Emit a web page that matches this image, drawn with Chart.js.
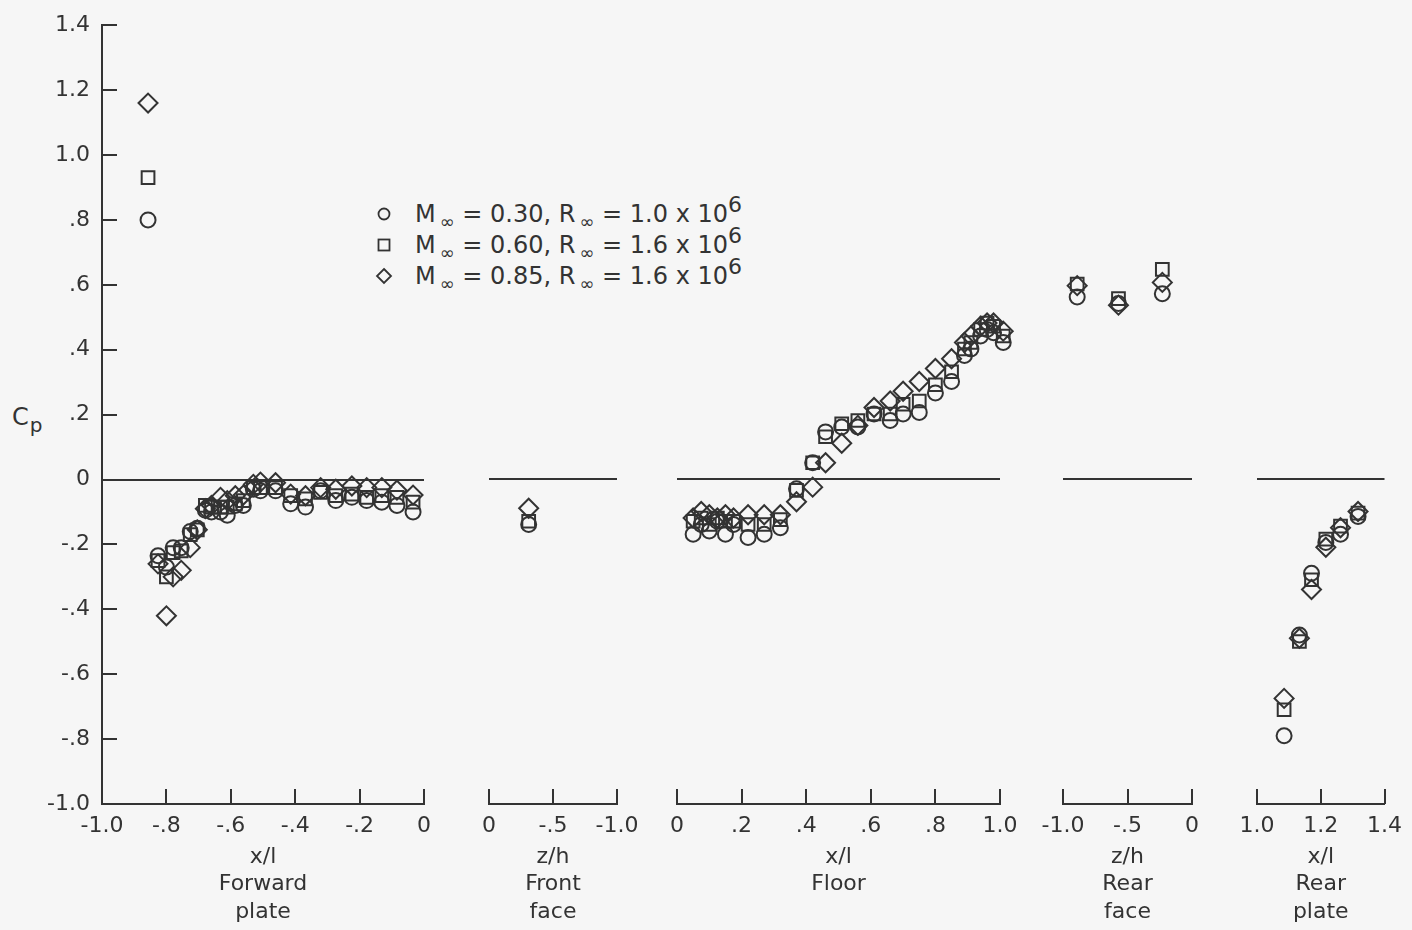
<!DOCTYPE html>
<html>
<head>
<meta charset="utf-8">
<script src="https://cdn.jsdelivr.net/npm/chart.js@4.4.1/dist/chart.umd.min.js"></script>
<style>
  html, body { margin: 0; padding: 0; background: #f6f6f6; overflow: hidden; }
  body { width: 1412px; height: 930px; position: relative; font-family: 'DejaVu Sans', sans-serif; color: #333; }
  canvas { position: absolute; top: 0; }
  sub, sup { line-height: 0; }
  .cp { position: absolute; left: 12px; top: 403px; font-size: 24px; line-height: 28px; }
  .cp sub { font-size: 20px; vertical-align: -7px; margin-left: 1px; }
  .legend { position: absolute; left: 370px; top: 200px; font-size: 24px; }
  .legend .row { position: absolute; left: 0; height: 28px; line-height: 28px; white-space: nowrap; }
  .legend svg { position: absolute; left: 3px; top: 3px; }
  .legend .txt { position: absolute; left: 45px; top: 0; }
  .legend sub { font-size: 18px; vertical-align: -6px; margin-left: 4px; }
  .legend sup { font-size: 22px; vertical-align: 10px; }
</style>
</head>
<body>
<div class="cp">C<sub>p</sub></div>
<div class="legend" id="legend"></div>

<script>
// series (free-stream conditions)
const seriesMach = ['0.30', '0.60', '0.85'];
const seriesRe = ['1.0', '1.6', '1.6'];

// y axis
const yMin = -1.0, yMax = 1.4, yStep = 0.2;

// Forward plate, x/l
const fwdX = [-0.857, -0.826, -0.80, -0.779, -0.754, -0.726, -0.704, -0.679, -0.66, -0.632, -0.611, -0.586, -0.561, -0.53, -0.508, -0.461, -0.414, -0.368, -0.321, -0.274, -0.224, -0.178, -0.131, -0.084, -0.034];
const fwdM30 = [0.80, -0.235, -0.27, -0.21, -0.21, -0.16, -0.15, -0.095, -0.10, -0.10, -0.11, -0.08, -0.08, -0.03, -0.035, -0.035, -0.075, -0.085, -0.035, -0.065, -0.055, -0.065, -0.07, -0.08, -0.10];
const fwdM60 = [0.93, -0.25, -0.30, -0.225, -0.22, -0.17, -0.155, -0.08, -0.085, -0.085, -0.085, -0.075, -0.065, -0.025, -0.025, -0.025, -0.05, -0.06, -0.04, -0.05, -0.045, -0.055, -0.05, -0.055, -0.07];
const fwdM85 = [1.16, -0.26, -0.42, -0.30, -0.28, -0.21, -0.155, -0.09, -0.08, -0.055, -0.065, -0.05, -0.048, -0.015, -0.008, -0.01, -0.045, -0.05, -0.025, -0.03, -0.02, -0.025, -0.025, -0.033, -0.048];

// Front face, z/h
const ffX = [-0.31];
const ffM30 = [-0.14];
const ffM60 = [-0.13];
const ffM85 = [-0.09];

// Floor, x/l
const flX = [0.05, 0.075, 0.10, 0.125, 0.15, 0.175, 0.22, 0.27, 0.32, 0.37, 0.42, 0.46, 0.51, 0.56, 0.61, 0.66, 0.70, 0.75, 0.80, 0.85, 0.89, 0.91, 0.94, 0.96, 0.98, 1.01];
const flM30 = [-0.17, -0.14, -0.16, -0.13, -0.17, -0.14, -0.18, -0.17, -0.15, -0.03, 0.05, 0.145, 0.16, 0.16, 0.20, 0.18, 0.20, 0.205, 0.265, 0.30, 0.38, 0.40, 0.44, 0.46, 0.45, 0.42];
const flM60 = [-0.13, -0.12, -0.14, -0.12, -0.13, -0.13, -0.14, -0.14, -0.125, -0.035, 0.05, 0.13, 0.17, 0.18, 0.20, 0.20, 0.23, 0.24, 0.29, 0.33, 0.40, 0.42, 0.46, 0.48, 0.47, 0.44];
const flM85 = [-0.12, -0.10, -0.11, -0.12, -0.11, -0.12, -0.11, -0.11, -0.11, -0.07, -0.025, 0.05, 0.11, 0.165, 0.22, 0.24, 0.27, 0.30, 0.34, 0.37, 0.42, 0.44, 0.47, 0.48, 0.48, 0.455];

// Rear face, z/h
const rfX = [-0.89, -0.57, -0.23];
const rfM30 = [0.56, 0.54, 0.57];
const rfM60 = [0.60, 0.555, 0.645];
const rfM85 = [0.595, 0.535, 0.605];

// Rear plate, x/l
const rpX = [1.085, 1.133, 1.171, 1.216, 1.262, 1.317];
const rpM30 = [-0.79, -0.48, -0.29, -0.195, -0.17, -0.115];
const rpM60 = [-0.71, -0.50, -0.31, -0.185, -0.145, -0.105];
const rpM85 = [-0.675, -0.49, -0.34, -0.21, -0.15, -0.10];

const ink = '#333333';

Chart.defaults.font.family = "'DejaVu Sans', sans-serif";
Chart.defaults.font.size = 22;
Chart.defaults.color = ink;

function fmtTick(v) {
    if (Math.abs(v) < 1e-9) return '0';
    const s = v.toFixed(1);
    return Math.abs(v) < 1 ? s.replace('0.', '.') : s;
}

// ticks drawn inward from the axis lines
const innerTicks = {
    id: 'innerTicks',
    afterDraw(chart, args, opts) {
        const ctx = chart.ctx;
        const xs = chart.scales.x, ys = chart.scales.y;
        ctx.save();
        ctx.strokeStyle = ink;
        ctx.lineWidth = 2;
        xs.ticks.forEach(t => {
            const px = Math.round(xs.getPixelForValue(t.value));
            ctx.beginPath();
            ctx.moveTo(px, xs.top);
            ctx.lineTo(px, xs.top - 15);
            ctx.stroke();
        });
        if (opts.yTicks) {
            ys.ticks.forEach(t => {
                const py = Math.round(ys.getPixelForValue(t.value));
                ctx.beginPath();
                ctx.moveTo(ys.right, py);
                ctx.lineTo(ys.right + 15, py);
                ctx.stroke();
            });
        }
        ctx.restore();
    }
};

const seriesStyle = [
    { pointStyle: 'circle', pointRadius: 7.5 },
    { pointStyle: 'rect', pointRadius: 9 },
    { pointStyle: 'rectRot', pointRadius: 9.5 }
];

function makeDatasets(xs, ysList) {
    return ysList.map((ys, i) => ({
        label: 'M = ' + seriesMach[i],
        data: xs.map((x, j) => ({ x: x, y: ys[j] })),
        pointStyle: seriesStyle[i].pointStyle,
        pointRadius: seriesStyle[i].pointRadius,
        borderColor: ink,
        backgroundColor: 'rgba(0,0,0,0)',
        borderWidth: 2,
        showLine: false,
        clip: false
    }));
}

function makePanel(p) {
    const showY = !!p.showY;
    const padL = showY ? 0 : 40;
    const padR = p.padRight;
    const canvas = document.createElement('canvas');
    canvas.width = (p.right - p.left) + padL + padR + (showY ? p.left : 0);
    canvas.height = 930;
    canvas.style.left = (showY ? 0 : p.left - padL) + 'px';
    document.body.appendChild(canvas);

    new Chart(canvas.getContext('2d'), {
        type: 'scatter',
        data: { datasets: makeDatasets(p.xs, p.ys) },
        options: {
            responsive: false,
            animation: false,
            devicePixelRatio: 1,
            layout: { padding: { left: padL, right: padR, top: 24, bottom: 0 } },
            plugins: {
                legend: { display: false },
                tooltip: { enabled: false },
                innerTicks: { yTicks: showY }
            },
            scales: {
                x: {
                    type: 'linear',
                    min: p.min, max: p.max,
                    reverse: !!p.reverse,
                    afterBuildTicks: s => { s.ticks = p.ticks.map(v => ({ value: v })); },
                    afterFit: s => { s.height = 126; },
                    grid: { display: false, drawTicks: false },
                    border: { display: true, color: ink, width: 2 },
                    ticks: { padding: 9, autoSkip: false, maxRotation: 0, callback: v => fmtTick(v) },
                    title: {
                        display: true,
                        text: p.title,
                        font: { size: 22, lineHeight: 1.25 },
                        padding: { top: 0, bottom: 4 }
                    }
                },
                y: {
                    type: 'linear',
                    min: yMin, max: yMax,
                    afterFit: s => { s.width = showY ? p.left : 0; },
                    ticks: { display: showY, stepSize: yStep, padding: 12, callback: v => fmtTick(v) },
                    grid: {
                        drawTicks: false,
                        lineWidth: 2,
                        color: c => (c.tick && Math.abs(c.tick.value) < 1e-9) ? ink : 'rgba(0,0,0,0)'
                    },
                    border: { display: showY, color: ink, width: 2 }
                }
            }
        },
        plugins: [innerTicks]
    });
}

const panels = [
    { left: 102, right: 424, min: -1, max: 0, ticks: [-1, -0.8, -0.6, -0.4, -0.2, 0], title: ['x/l', 'Forward', 'plate'], xs: fwdX, ys: [fwdM30, fwdM60, fwdM85], showY: true, padRight: 40 },
    { left: 489, right: 617, min: -1, max: 0, reverse: true, ticks: [0, -0.5, -1], title: ['z/h', 'Front', 'face'], xs: ffX, ys: [ffM30, ffM60, ffM85], padRight: 40 },
    { left: 677, right: 1000, min: 0, max: 1, ticks: [0, 0.2, 0.4, 0.6, 0.8, 1], title: ['x/l', 'Floor', ''], xs: flX, ys: [flM30, flM60, flM85], padRight: 40 },
    { left: 1063, right: 1192, min: -1, max: 0, ticks: [-1, -0.5, 0], title: ['z/h', 'Rear', 'face'], xs: rfX, ys: [rfM30, rfM60, rfM85], padRight: 40 },
    { left: 1257, right: 1389, min: 1, max: 1.4, ticks: [1, 1.2, 1.4], title: ['x/l', 'Rear', 'plate'], xs: rpX, ys: [rpM30, rpM60, rpM85], padRight: 22 }
];

panels.forEach(makePanel);

// legend
const markerSvg = [
    '<svg width="22" height="22"><circle cx="11" cy="11" r="5.5" fill="none" stroke="#333" stroke-width="1.8"/></svg>',
    '<svg width="22" height="22"><rect x="5.5" y="5.5" width="11" height="11" fill="none" stroke="#333" stroke-width="1.8"/></svg>',
    '<svg width="22" height="22"><path d="M11 4 L18 11 L11 18 L4 11 Z" fill="none" stroke="#333" stroke-width="1.8"/></svg>'
];
const legendEl = document.getElementById('legend');
seriesMach.forEach((m, i) => {
    const row = document.createElement('div');
    row.className = 'row';
    row.style.top = (i * 31) + 'px';
    row.innerHTML = markerSvg[i] +
        '<span class="txt">M<sub>\u221E</sub> = ' + m + ', R<sub>\u221E</sub> = ' + seriesRe[i] + ' x 10<sup>6</sup></span>';
    legendEl.appendChild(row);
});
</script>
</body>
</html>
